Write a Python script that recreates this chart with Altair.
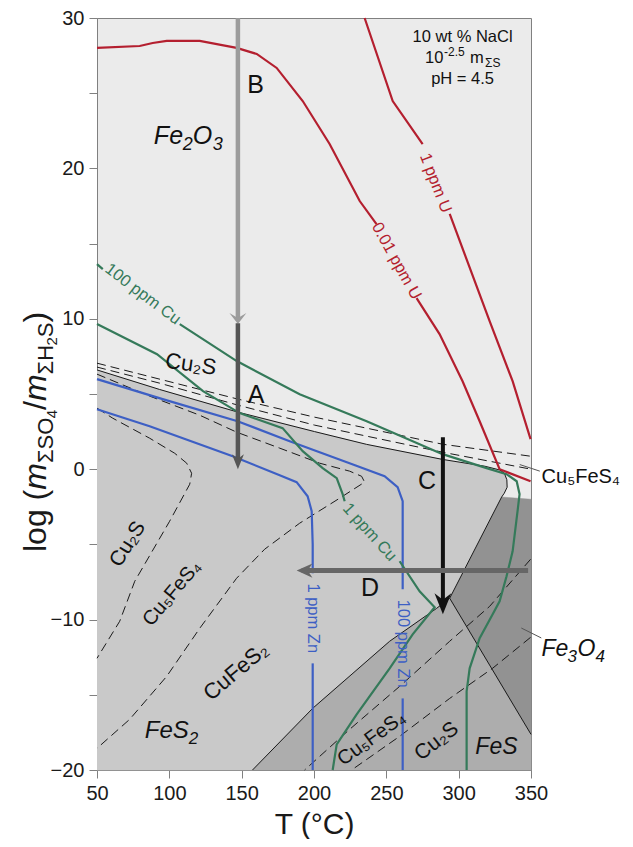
import altair as alt
import pandas as pd

FONT = "Liberation Sans"
W, H = 434, 752

# ---------------- axis ticks ----------------
x_ticks = [50, 100, 150, 200, 250, 300, 350]
y_ticks = [-20, -15, -10, -5, 0, 5, 10, 15, 20, 25, 30]

# ---------------- mineral field boundaries (T °C, log ratio) ----------------
pyrite_top_T = [50, 93.3, 147.2, 200.4, 236.4, 288.9, 318, 328.3, 331.5, 333.3, 333.5, 331.5, 329.7]
pyrite_top_v = [6.6, 5.3, 3.8, 2.5, 1.65, 0.65, 0.2, -0.05, -0.25, -0.7, -1.2, -1.6, -1.85]
magnetite_left_T = [329.7, 293.8]
magnetite_left_v = [-1.85, -8.58]
pyrite_bottom_T = [293.8, 284.8, 252.3, 199.1, 157.5]
pyrite_bottom_v = [-8.58, -9.25, -11.44, -15.9, -20]
po_mt_T = [293.8, 350]
po_mt_v = [-8.58, -17.63]
mt_top_T = [329.7, 350]
mt_top_v = [-1.85, -2.0]

# dashed Cu-Fe sulfide boundaries
d1_T = [50, 147.4, 200.4, 288.9, 350]
d1_v = [7.05, 4.66, 3.46, 1.66, 0.86]
d2_T = [50, 93.3, 147.4, 200.4, 288.9, 350]
d2_v = [6.79, 5.72, 4.26, 2.93, 1.13, 0.0]
p1_T = [50, 60.9, 86.4, 103.7, 112.0, 115.4, 114.1, 100.2, 76.1, 65.7, 50]
p1_v = [4.06, 3.39, 2.06, 1.06, 0.40, -0.27, -1.0, -3.46, -7.45, -10.11, -12.57]
p2_T = [50, 86.4, 121.0, 146.6, 176.3, 203.9, 224.6, 232.9, 235.0, 217.7, 190.1, 165.9, 146.5, 121.0, 98.2, 72.6, 50]
p2_v = [6.32, 4.86, 3.59, 2.46, 1.40, 0.40, -0.13, -0.47, -0.86, -1.93, -3.59, -5.32, -7.25, -10.58, -13.77, -16.63, -18.56]
l1_T = [349.7, 321.4, 293.8, 259.2, 224.6, 193.5]
l1_v = [-5.99, -9.12, -11.44, -14.44, -17.30, -20]
l2_T = [349.7, 323.4, 293.8, 259.2, 226]
l2_v = [-11.18, -13.24, -15.24, -17.76, -20]

# ---------------- solubility contours ----------------
cu100_a_T = [50, 54]
cu100_a_v = [13.64, 13.3]
cu100_b_T = [107.2, 146.6, 190.1, 236.4, 288.9, 319.3, 333.1, 340.1, 342.1, 340.7, 337.3, 333.1, 328.3, 323.5, 314.5, 307.6, 305.5, 305.5]
cu100_b_v = [9.65, 7.19, 4.99, 3.19, 1.0, 0.07, -0.33, -0.80, -1.66, -2.79, -5.46, -7.12, -8.78, -9.65, -11.24, -13.24, -14.77, -20]
cu1_a_T = [50, 91.5, 123.3, 148.6, 178.3, 192.2, 206.0, 215.7, 219.8, 221.2]
cu1_a_v = [9.65, 7.65, 5.19, 3.73, 2.73, 1.20, 0.07, -0.60, -1.66, -2.13]
cu1_b_T = [259.2, 273.0, 283.4, 268.2, 252.3, 229.5, 215.7, 212.9]
cu1_b_v = [-6.12, -8.12, -9.18, -10.98, -13.24, -16.30, -18.30, -20]

u001_a_T = [50, 79.5, 88.5, 98.2, 121.0, 146.5, 160.4, 174.2, 192.2, 210.8, 231.6, 243.2]
u001_a_v = [28.01, 28.14, 28.34, 28.48, 28.48, 28.01, 27.61, 26.68, 24.48, 21.62, 17.83, 16.30]
u001_b_T = [270.9, 286.8, 302.7, 314.5, 328.3, 349.7]
u001_b_v = [11.38, 8.98, 5.85, 3.19, 0.0, -0.8]
u1_a_T = [235.0, 254.4, 275.1]
u1_a_v = [30, 24.48, 21.62]
u1_b_T = [293.8, 321.4, 337.3, 349.7]
u1_b_v = [16.97, 9.85, 5.85, 2.0]

zn100_a_T = [50, 95.4, 147.2, 183.2, 224.6, 248.8, 257.8, 261.3, 261.3]
zn100_a_v = [5.99, 4.66, 3.19, 1.86, 0.40, -0.47, -1.20, -2.13, -7.98]
zn100_b_T = [261.3, 261.3]
zn100_b_v = [-15.24, -20]
zn1_a_T = [50, 86.4, 143.8, 176.3, 188.0, 195.6, 198.4, 199.1, 199.1]
zn1_a_v = [3.99, 2.86, 0.86, -0.40, -0.86, -1.80, -2.79, -5.0, -6.92]
zn1_b_T = [199.1, 199.1]
zn1_b_v = [-12.91, -20]

# ---------------- paths (arrows) ----------------
arrowB_T = [147.4, 147.4]
arrowB_v = [30, 9.9]
arrowA_T = [147.4, 147.4]
arrowA_v = [9.7, 0.6]
arrowC_T = [289.1, 289.1]
arrowC_v = [2.13, -9.2]
arrowD_T = [348, 191.5]
arrowD_v = [-6.74, -6.74]


def frame(ident, T, v):
    return pd.DataFrame({"id": ident, "T": T, "v": v, "i": list(range(len(T)))})


xenc = alt.X("T:Q", scale=alt.Scale(domain=[50, 350], nice=False, zero=False),
             axis=alt.Axis(values=x_ticks, title="T (°C)", labelFlush=False, format="d"))
yenc = alt.Y("v:Q", scale=alt.Scale(domain=[-20, 30], nice=False, zero=False),
             axis=alt.Axis(values=y_ticks, title="", labelFlush=False,
                           labelExpr="datum.value % 10 === 0 ? datum.label : ''"))

layers = []

# filled mineral fields
pyrite_poly = frame("py", pyrite_top_T + magnetite_left_T[1:] + pyrite_bottom_T[1:] + [50],
                    pyrite_top_v + magnetite_left_v[1:] + pyrite_bottom_v[1:] + [-20])
fes_poly = frame("fes", pyrite_bottom_T + [350, 350], pyrite_bottom_v + [-20, -17.63])
mt_poly = frame("mt", mt_top_T + [350, 293.8], mt_top_v + [-17.63, -8.58])
for df, col in [(pyrite_poly, "#c9c9c9"), (fes_poly, "#adadad"), (mt_poly, "#929292")]:
    layers.append(alt.Chart(df).mark_line(fill=col, stroke=col, strokeWidth=0.5)
                  .encode(x=xenc, y=yenc, order="i:Q"))

# dashed boundaries
dashed = pd.concat([frame("d1", d1_T, d1_v), frame("d2", d2_T, d2_v), frame("p1", p1_T, p1_v),
                    frame("p2", p2_T, p2_v), frame("l1", l1_T, l1_v), frame("l2", l2_T, l2_v)])
layers.append(alt.Chart(dashed).mark_line(color="#1a1a1a", strokeWidth=1, strokeDash=[9, 5])
              .encode(x=xenc, y=yenc, detail="id:N", order="i:Q"))

# solid boundaries
solid = pd.concat([frame("s1", pyrite_top_T + magnetite_left_T[1:] + pyrite_bottom_T[1:],
                         pyrite_top_v + magnetite_left_v[1:] + pyrite_bottom_v[1:]),
                   frame("s2", po_mt_T, po_mt_v)])
layers.append(alt.Chart(solid).mark_line(color="#1a1a1a", strokeWidth=1)
              .encode(x=xenc, y=yenc, detail="id:N", order="i:Q"))


def contour(parts, color):
    df = pd.concat([frame(n, t, v) for n, t, v in parts])
    return alt.Chart(df).mark_line(color=color, strokeWidth=2.2).encode(
        x=xenc, y=yenc, detail="id:N", order="i:Q")


GREEN, RED, BLUE = "#357a5a", "#b41f2f", "#3d5fc4"
layers.append(contour([("cz1", zn100_a_T, zn100_a_v), ("cz2", zn100_b_T, zn100_b_v),
                       ("cz3", zn1_a_T, zn1_a_v), ("cz4", zn1_b_T, zn1_b_v)], BLUE))
layers.append(contour([("cc1", cu100_a_T, cu100_a_v), ("cc2", cu100_b_T, cu100_b_v),
                       ("cc3", cu1_a_T, cu1_a_v), ("cc4", cu1_b_T, cu1_b_v)], GREEN))
layers.append(contour([("cu1", u001_a_T, u001_a_v), ("cu2", u001_b_T, u001_b_v),
                       ("cu3", u1_a_T, u1_a_v), ("cu4", u1_b_T, u1_b_v)], RED))

# arrows
HEAD_DOWN = "M0,0 L-0.8,-2 L0,-1.4 L0.8,-2 Z"
HEAD_CHEV = "M0,0 L-0.85,-1.1 L0,-0.6 L0.85,-1.1 Z"
HEAD_LEFT = "M0,0 L2,-0.9 L1.4,0 L2,0.9 Z"


def shaft(T, v, color, width):
    return alt.Chart(frame("a", T, v)).mark_line(color=color, strokeWidth=width, strokeCap="butt").encode(
        x=xenc, y=yenc, order="i:Q")


def head(T, v, path, size, color):
    return alt.Chart(pd.DataFrame({"T": [T], "v": [v]})).mark_point(
        shape=path, size=size, filled=True, color=color, opacity=1, strokeWidth=0).encode(x=xenc, y=yenc)


layers.append(shaft(arrowB_T, arrowB_v, "#9c9c9c", 4.5))
layers.append(head(147.4, 9.65, HEAD_CHEV, 400, "#9c9c9c"))
layers.append(shaft(arrowA_T, arrowA_v, "#555555", 4.5))
layers.append(head(147.4, 0.0, HEAD_DOWN, 225, "#555555"))
layers.append(shaft(arrowC_T, arrowC_v, "#111111", 4))
layers.append(head(289.1, -9.65, HEAD_DOWN, 441, "#111111"))
layers.append(shaft(arrowD_T, arrowD_v, "#666666", 5))
layers.append(head(188.0, -6.74, HEAD_LEFT, 250, "#666666"))

# pointer lines for outside labels
pointers = pd.concat([frame("q1", [343.3, 357.1], [-10.56, -11.22]),
                      frame("q2", [342.2, 356.1], [0.31, -0.13])])
layers.append(alt.Chart(pointers).mark_line(color="#555555", strokeWidth=1)
              .encode(x=xenc, y=yenc, detail="id:N", order="i:Q"))


def txt(s, T, v, size, color="#111111", angle=0, italic=False, align="center",
        baseline="alphabetic", dx=0, dy=0):
    kw = dict(font=FONT, fontSize=size, color=color, angle=angle % 360, align=align,
              baseline=baseline, dx=dx, dy=dy)
    if italic:
        kw["fontStyle"] = "italic"
    return alt.Chart(pd.DataFrame({"T": [T], "v": [v], "label": [s]})).mark_text(**kw).encode(
        x=xenc, y=yenc, text="label:N")


# contour labels
layers.append(txt("100 ppm Cu", 81.7, 11.64, 16.5, GREEN, angle=37, baseline="middle"))
layers.append(txt("1 ppm Cu", 238.4, -4.19, 16.5, GREEN, angle=48, baseline="middle"))
layers.append(txt("0.01 ppm U", 257.0, 13.84, 16.5, RED, angle=61, baseline="middle"))
layers.append(txt("1 ppm U", 284.0, 19.03, 16.5, RED, angle=69, baseline="middle"))
layers.append(txt("1 ppm Zn", 199.1, -9.91, 16.5, BLUE, angle=90, baseline="middle"))
layers.append(txt("100 ppm Zn", 261.3, -11.6, 16.5, BLUE, angle=90, baseline="middle"))

# path letters
layers.append(txt("B", 159.7, 25.02, 25))
layers.append(txt("A", 160.0, 4.39, 25))
layers.append(txt("C", 278.2, -1.33, 25))
layers.append(txt("D", 238.8, -8.45, 25))

# field labels
layers.append(txt("Fe", 89.3, 21.62, 25, italic=True, align="left"))
layers.append(txt("2", 89.3, 21.62, 18, italic=True, align="left", dx=29, dy=6))
layers.append(txt("O", 89.3, 21.62, 25, italic=True, align="left", dx=39))
layers.append(txt("3", 89.3, 21.62, 18, italic=True, align="left", dx=59, dy=6))

layers.append(txt("Cu₂S", 114.2, 6.52, 22, angle=8))
layers.append(txt("Cu₂S", 71.3, -4.99, 21, angle=-58, baseline="middle"))
layers.append(txt("Cu₅FeS₄", 101.8, -8.25, 20, angle=-50, baseline="middle"))
layers.append(txt("CuFeS₂", 146.0, -13.44, 22, angle=-40, baseline="middle"))
layers.append(txt("Cu₅FeS₄", 239.8, -17.9, 20, angle=-36, baseline="middle"))
layers.append(txt("Cu₂S", 284.8, -18.1, 21, angle=-38, baseline="middle"))

layers.append(txt("FeS", 83.0, -17.9, 24, italic=True, align="left"))
layers.append(txt("2", 83.0, -17.9, 17, italic=True, align="left", dx=44, dy=6))
layers.append(txt("FeS", 326.1, -18.96, 23, italic=True))

layers.append(txt("Fe", 357.3, -12.44, 23, italic=True, align="left"))
layers.append(txt("3", 357.3, -12.44, 17, italic=True, align="left", dx=26, dy=6))
layers.append(txt("O", 357.3, -12.44, 23, italic=True, align="left", dx=36))
layers.append(txt("4", 357.3, -12.44, 17, italic=True, align="left", dx=54, dy=6))
layers.append(txt("Cu₅FeS₄", 357.3, -0.91, 20, align="left"))

# conditions box
layers.append(txt("10 wt % NaCl", 302.7, 28.41, 16.5))
layers.append(txt("10", 276.8, 27.01, 16.5, align="left"))
layers.append(txt("-2.5", 276.8, 27.01, 12, align="left", dx=19, dy=-7))
layers.append(txt("m", 276.8, 27.01, 16.5, align="left", dx=45))
layers.append(txt("ΣS", 276.8, 27.01, 12, align="left", dx=60, dy=4))
layers.append(txt("pH = 4.5", 302.7, 25.62, 16.5))


# y-axis title built from pieces (rotated, reading upward)
def ypiece(s, dx, size, dy=0, italic=False):
    kw = dict(font=FONT, fontSize=size, color="#1a1a1a", angle=270, align="left",
              baseline="alphabetic", dx=dx, dy=dy)
    if italic:
        kw["fontStyle"] = "italic"
    return alt.Chart(pd.DataFrame({"label": [s]})).mark_text(**kw).encode(
        x=alt.value(-51), y=alt.value(534), text="label:N")


for s, dx, size, dy, it in [("log (", 0, 32, 0, False), ("m", 62.2, 32, 0, True),
                            ("ΣSO", 88.9, 22, 7, False), ("4", 133.7, 15, 11, False),
                            ("/", 142.0, 32, 0, False), ("m", 150.9, 32, 0, True),
                            ("ΣH", 177.6, 22, 7, False), ("2", 206.5, 15, 11, False),
                            ("S", 214.8, 22, 7, False), (")", 229.5, 32, 0, False)]:
    layers.append(ypiece(s, dx, size, dy, it))

chart = alt.layer(*layers).properties(
    width=W, height=H,
    autosize=alt.AutoSizeParams(type="none"),
    padding={"left": 89, "top": 10, "right": 94, "bottom": 69},
).configure_view(
    fill="#ebebeb", stroke="#808080", strokeWidth=1
).configure_axis(
    grid=False, domainColor="#808080", tickColor="#808080", tickSize=8,
    labelFont=FONT, labelFontSize=20, labelColor="#1a1a1a", labelPadding=5,
    titleFont=FONT, titleFontSize=30, titleFontWeight="normal", titleColor="#1a1a1a",
    titlePadding=6
)

chart.save("out.html", embed_options={"renderer": "svg", "actions": False})
